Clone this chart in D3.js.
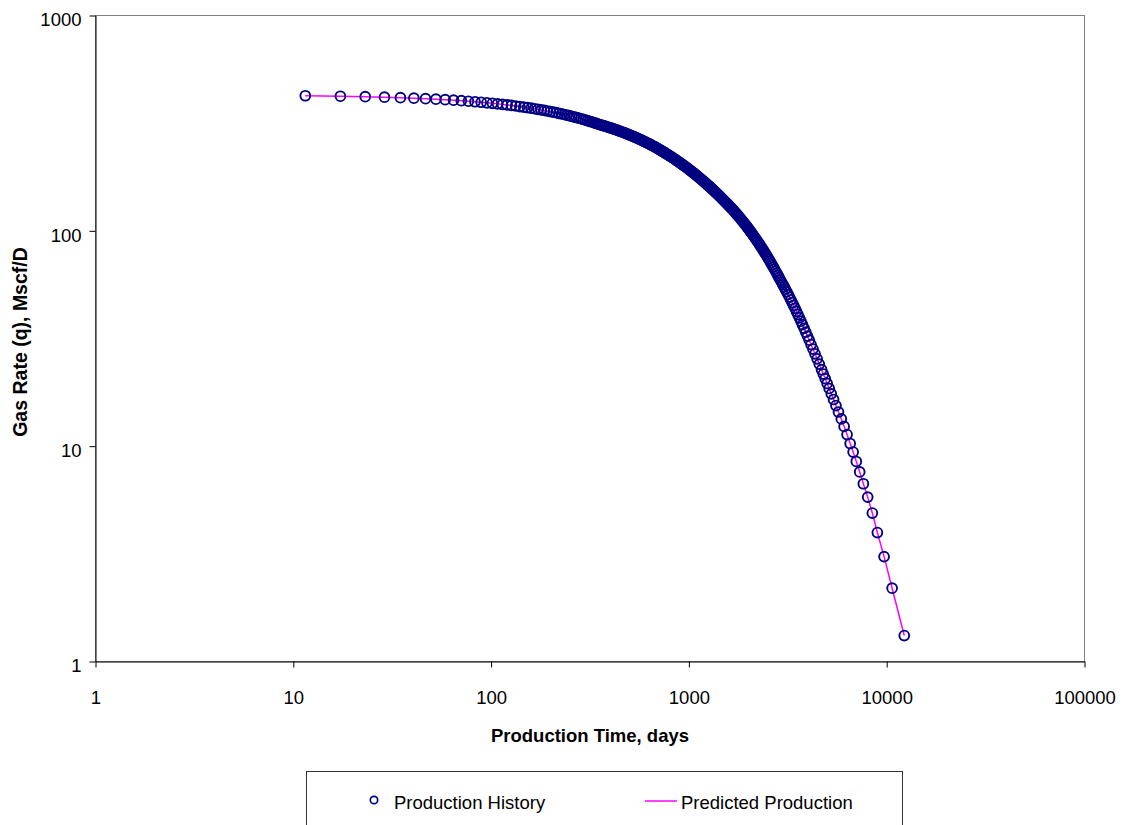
<!DOCTYPE html>
<html>
<head>
<meta charset="utf-8">
<script src="https://cdn.jsdelivr.net/npm/d3@7"></script>
<style>
  body { margin: 0; background: #fff; }
  svg { display: block; }
  text { font-family: "Liberation Sans", Arial, sans-serif; fill: #000; }
</style>
</head>
<body>
<svg id="chart" width="1128" height="825"></svg>
<script>
// Production time (days) of each recorded rate
const days = [
  11.5, 17.3, 23.1, 28.9, 34.8, 40.7, 46.6, 52.6, 58.6, 64.6, 70.7, 76.8, 82.9, 89.1, 95.3, 101.5,
  107.8, 114.1, 120.5, 126.8, 133.2, 139.7, 146.2, 152.7, 159.3, 165.9, 172.5, 179.2, 185.9, 192.7,
  199.5, 206.4, 213.2, 220.2, 227.1, 234.2, 241.3, 248.4, 255.5, 262.7, 270.0, 277.3, 284.7, 292.1,
  299.5, 307.0, 314.6, 322.1, 329.8, 337.5, 345.2, 353.0,
  360.9, 368.9, 377.0, 385.0, 393.2, 401.3, 409.6, 417.8, 426.2, 434.5, 443.0, 451.5, 460.0, 468.6,
  477.3, 486.0, 494.7, 503.6, 512.5, 521.4, 530.4, 539.5, 548.6, 557.8, 567.1, 576.4, 585.8, 595.2,
  604.8, 614.3, 624.0, 633.7, 643.5, 653.4, 663.4, 673.4, 683.5, 693.7, 704.0, 714.3, 724.7, 735.2,
  745.7, 756.4,
  766.8, 778.1, 788.6, 800.1, 811.1, 822.7, 834.0, 846.0, 857.4, 869.6, 881.3, 893.9, 905.9, 918.7,
  931.1, 944.2, 956.8, 970.4, 983.2, 997.1, 1010.5, 1024.6, 1038.3, 1053.0, 1066.9, 1082.0, 1096.4,
  1111.8, 1126.6, 1142.5, 1157.8,
  1170.7, 1183.7, 1197.0, 1210.3, 1223.8, 1237.5, 1251.4, 1265.6, 1279.7, 1294.2, 1308.9, 1323.7,
  1338.8, 1354.0, 1369.5, 1385.1, 1401.0, 1417.1, 1433.6, 1450.2, 1466.9, 1484.1, 1501.4, 1519.0,
  1536.9, 1555.1, 1573.6, 1592.4, 1611.6, 1630.9, 1650.7, 1670.7,
  1690.3, 1710.3, 1730.7, 1751.2, 1771.9, 1793.0, 1814.3, 1835.9, 1857.8, 1880.0, 1902.5, 1925.3,
  1948.5, 1972.0, 1995.8, 2019.9, 2044.4, 2069.3, 2094.5, 2120.2, 2146.3, 2172.8, 2199.7, 2227.1,
  2254.9, 2283.3, 2312.1, 2341.4, 2371.3, 2401.7, 2432.8, 2464.4, 2496.6, 2529.5, 2563.0, 2597.3,
  2632.2, 2668.0, 2704.5, 2741.9, 2780.1, 2819.3, 2859.4, 2900.6,
  2943.5, 2987.4, 3032.3, 3078.5, 3125.9, 3174.6, 3224.7, 3276.2, 3329.2, 3383.9, 3440.2, 3498.4,
  3558.6, 3620.1, 3684.3, 3751.8, 3822.7, 3897.1, 3975.7, 4058.8, 4146.3, 4239.8, 4339.7, 4446.8,
  4561.9, 4686.1,
  4783.2, 4887.4, 4998.6, 5118.2, 5247.2, 5386.8, 5538.6, 5704.4, 5895.7, 6091.1, 6303.5, 6536.2,
  6766.7, 7020.6, 7302.7, 7620.9, 8015, 8460, 8970, 9700, 10650, 12270
];

// Gas rate (Mscf/D) at each of those times
const rate = [
  424.0, 421.8, 419.6, 417.4, 415.2, 413.0, 410.8, 408.6, 406.4, 404.2, 402.0, 399.8, 397.6, 395.4,
  393.2, 391.0, 388.8, 386.6, 384.4, 382.2, 380.0, 377.8, 375.6, 373.4, 371.2, 369.0, 366.8, 364.6,
  362.4, 360.2, 358.0, 355.8, 353.6, 351.4, 349.2, 347.0, 344.8, 342.6, 340.4, 338.2, 336.0, 333.8,
  331.6, 329.4, 327.2, 325.0, 322.8, 320.6, 318.4, 316.2, 314.0, 311.8,
  310.0, 308.1, 306.3, 304.4, 302.6, 300.7, 298.9, 297.0, 295.2, 293.3, 291.5, 289.6, 287.8, 285.9,
  284.1, 282.2, 280.4, 278.5, 276.7, 274.8, 273.0, 271.1, 269.3, 267.4, 265.6, 263.7, 261.9, 260.0,
  258.2, 256.3, 254.5, 252.6, 250.8, 248.9, 247.1, 245.2, 243.4, 241.5, 239.7, 237.8, 236.0, 234.1,
  232.3, 230.4, 228.6, 226.7, 224.9, 223.0, 221.2, 219.3, 217.5, 215.6, 213.8, 211.9, 210.1, 208.2,
  206.4, 204.5, 202.7, 200.8, 199.0, 197.1, 195.3, 193.4, 191.6, 189.7, 187.9, 186.0, 184.2, 182.3,
  180.5, 178.6, 176.8, 174.9, 173.1,
  171.6, 170.1, 168.6, 167.1, 165.6, 164.1, 162.6, 161.1, 159.6, 158.1, 156.6, 155.1, 153.6, 152.1,
  150.6, 149.1, 147.6, 146.1, 144.6, 143.1, 141.6, 140.1, 138.6, 137.1, 135.6, 134.1, 132.6, 131.1,
  129.6, 128.1, 126.6, 125.1, 123.6, 122.1, 120.6, 119.1, 117.6, 116.1, 114.6, 113.1, 111.6, 110.1,
  108.6, 107.1, 105.6, 104.1, 102.6, 101.1, 99.55, 98.05, 96.55, 95.05, 93.55, 92.05, 90.55, 89.05,
  87.55, 86.05, 84.55, 83.05, 81.55, 80.05, 78.55, 77.05, 75.55, 74.05, 72.55, 71.05, 69.55, 68.05,
  66.55, 65.05, 63.55, 62.05, 60.55, 59.05,
  57.65, 56.25, 54.85, 53.45, 52.05, 50.65, 49.25, 47.85, 46.45, 45.05, 43.65, 42.25, 40.85, 39.45,
  38.05, 36.65, 35.25, 33.85, 32.45, 31.05, 29.65, 28.25, 26.85, 25.45, 24.05, 22.65,
  21.62, 20.59, 19.56, 18.53, 17.50, 16.47, 15.44, 14.41, 13.38, 12.35, 11.32, 10.29,
  9.39, 8.49, 7.59, 6.69, 5.80, 4.89, 3.97, 3.07, 2.19, 1.32
];

// Decline-curve prediction evaluated at the same times
const predictedRate = rate.slice();

const xTicks = [1, 10, 100, 1000, 10000, 100000];
const yTicks = [1, 10, 100, 1000];
const xTitle = "Production Time, days";
const yTitle = "Gas Rate (q), Mscf/D";
const legendLabels = ["Production History", "Predicted Production"];

const history = days.map((d, i) => [d, rate[i]]);
const predicted = days.map((d, i) => [d, predictedRate[i]]);

const svg = d3.select("#chart");
const plotLeft = 95.5, plotRight = 1084.5, plotTop = 15.5, plotBottom = 661.5;

const x = d3.scaleLog().domain([1, 100000]).range([plotLeft, plotRight]);
const y = d3.scaleLog().domain([1, 1000]).range([plotBottom, plotTop]);

// plot frame (top and right edges grey)
svg.append("rect")
  .attr("x", plotLeft).attr("y", plotTop)
  .attr("width", plotRight - plotLeft).attr("height", plotBottom - plotTop)
  .attr("fill", "none").attr("stroke", "#808080").attr("stroke-width", 1);

const fmt = d3.format("d");

const xAxis = svg.append("g")
  .attr("transform", `translate(0,${plotBottom})`)
  .call(d3.axisBottom(x).tickValues(xTicks).tickFormat(fmt)
    .tickSize(6).tickSizeOuter(0).tickPadding(23));

const yAxis = svg.append("g")
  .attr("transform", `translate(${plotLeft},0)`)
  .call(d3.axisLeft(y).tickValues(yTicks).tickFormat(fmt)
    .tickSize(6).tickSizeOuter(0).tickPadding(8));

[xAxis, yAxis].forEach(g => {
  g.select(".domain").attr("stroke", "#000").attr("stroke-width", 1);
  g.selectAll(".tick line").attr("stroke", "#000");
  g.selectAll(".tick text")
    .attr("font-family", "Liberation Sans, Arial, sans-serif")
    .attr("font-size", 18.5).attr("fill", "#000");
});
yAxis.selectAll(".tick text").attr("dy", "0.56em");

// predicted production line, under the markers
svg.append("path")
  .datum(predicted)
  .attr("fill", "none")
  .attr("stroke", "#ff00ff")
  .attr("stroke-width", 1.5)
  .attr("d", d3.line().x(d => x(d[0])).y(d => y(d[1])));

// production history markers
svg.append("g")
  .selectAll("circle")
  .data(history)
  .join("circle")
  .attr("cx", d => x(d[0]))
  .attr("cy", d => y(d[1]))
  .attr("r", 4.9)
  .attr("fill", "none")
  .attr("stroke", "#000080")
  .attr("stroke-width", 1.9);

// axis titles
svg.append("text")
  .attr("x", 590).attr("y", 741.5)
  .attr("text-anchor", "middle")
  .attr("font-size", 18.5).attr("font-weight", "bold")
  .text(xTitle);

svg.append("text")
  .attr("transform", "translate(27,342) rotate(-90)")
  .attr("text-anchor", "middle")
  .attr("font-size", 19.5).attr("font-weight", "bold")
  .text(yTitle);

// legend
const legend = svg.append("g");
legend.append("rect")
  .attr("x", 306.5).attr("y", 771.5)
  .attr("width", 596).attr("height", 80)
  .attr("fill", "#fff").attr("stroke", "#333").attr("stroke-width", 1);

legend.append("circle")
  .attr("cx", 374).attr("cy", 800).attr("r", 3.7)
  .attr("fill", "none").attr("stroke", "#000080").attr("stroke-width", 1.7);
legend.append("text")
  .attr("x", 394).attr("y", 808.5)
  .attr("font-size", 18.5)
  .text(legendLabels[0]);

legend.append("line")
  .attr("x1", 645).attr("x2", 677).attr("y1", 801).attr("y2", 801)
  .attr("stroke", "#ff00ff").attr("stroke-width", 1.5);
legend.append("text")
  .attr("x", 681).attr("y", 808.5)
  .attr("font-size", 18.5)
  .text(legendLabels[1]);
</script>
</body>
</html>
